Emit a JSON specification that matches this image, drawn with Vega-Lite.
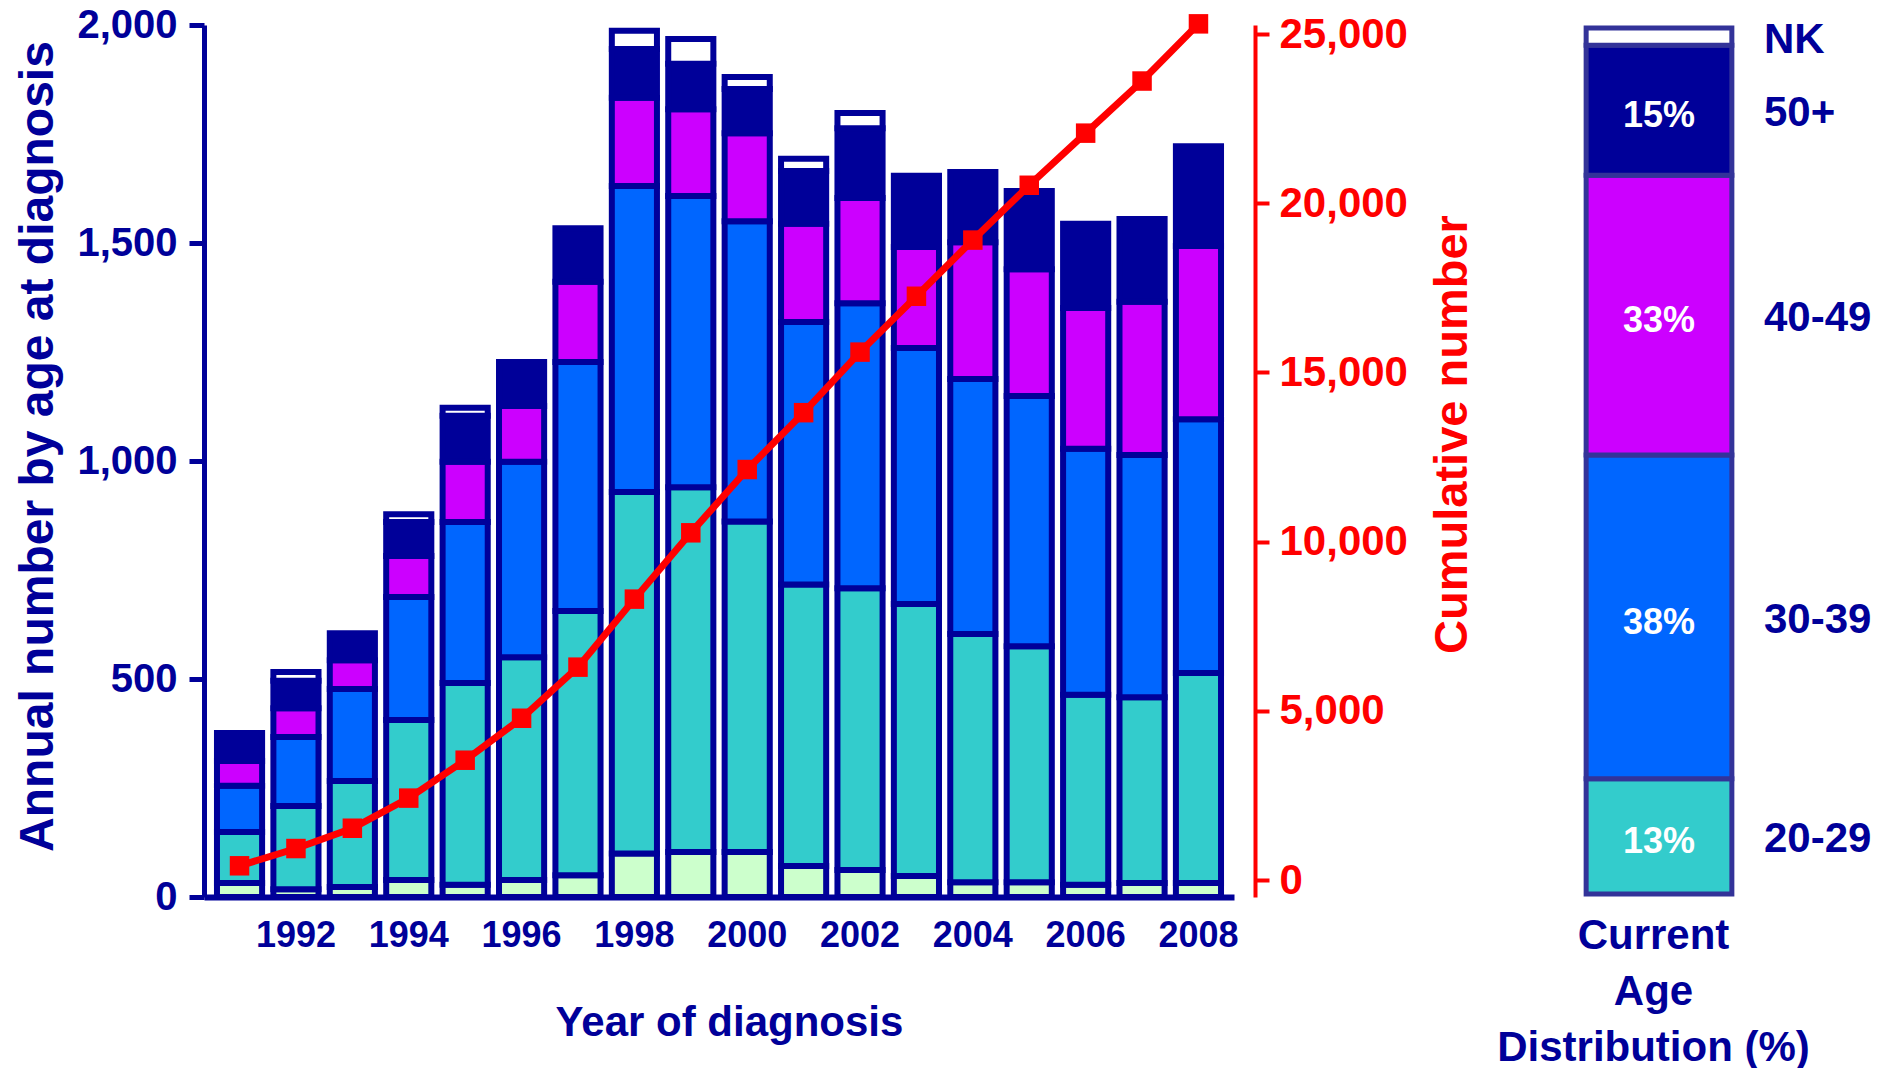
{
  "$schema": "https://vega.github.io/schema/vega-lite/v6.json",
  "background": "white",
  "padding": {"left": 13, "top": 5, "right": 5, "bottom": 0},
  "config": {
    "font": "Liberation Sans",
    "view": {"stroke": null},
    "axis": {"grid": false, "labelFontWeight": "bold", "titleFontWeight": "bold"}
  },
  "datasets": {
    "annual": [
      {"year": 1991, "grp": "0-19", "n": 32}, {"year": 1991, "grp": "20-29", "n": 117}, {"year": 1991, "grp": "30-39", "n": 106}, {"year": 1991, "grp": "40-49", "n": 57}, {"year": 1991, "grp": "50+", "n": 64},
      {"year": 1992, "grp": "0-19", "n": 18}, {"year": 1992, "grp": "20-29", "n": 191}, {"year": 1992, "grp": "30-39", "n": 158}, {"year": 1992, "grp": "40-49", "n": 66}, {"year": 1992, "grp": "50+", "n": 63}, {"year": 1992, "grp": "NK", "n": 20},
      {"year": 1993, "grp": "0-19", "n": 23}, {"year": 1993, "grp": "20-29", "n": 243}, {"year": 1993, "grp": "30-39", "n": 211}, {"year": 1993, "grp": "40-49", "n": 66}, {"year": 1993, "grp": "50+", "n": 62},
      {"year": 1994, "grp": "0-19", "n": 39}, {"year": 1994, "grp": "20-29", "n": 367}, {"year": 1994, "grp": "30-39", "n": 282}, {"year": 1994, "grp": "40-49", "n": 94}, {"year": 1994, "grp": "50+", "n": 78}, {"year": 1994, "grp": "NK", "n": 18},
      {"year": 1995, "grp": "0-19", "n": 28}, {"year": 1995, "grp": "20-29", "n": 463}, {"year": 1995, "grp": "30-39", "n": 369}, {"year": 1995, "grp": "40-49", "n": 138}, {"year": 1995, "grp": "50+", "n": 106}, {"year": 1995, "grp": "NK", "n": 18},
      {"year": 1996, "grp": "0-19", "n": 39}, {"year": 1996, "grp": "20-29", "n": 511}, {"year": 1996, "grp": "30-39", "n": 448}, {"year": 1996, "grp": "40-49", "n": 128}, {"year": 1996, "grp": "50+", "n": 101},
      {"year": 1997, "grp": "0-19", "n": 50}, {"year": 1997, "grp": "20-29", "n": 606}, {"year": 1997, "grp": "30-39", "n": 571}, {"year": 1997, "grp": "40-49", "n": 184}, {"year": 1997, "grp": "50+", "n": 123},
      {"year": 1998, "grp": "0-19", "n": 100}, {"year": 1998, "grp": "20-29", "n": 829}, {"year": 1998, "grp": "30-39", "n": 702}, {"year": 1998, "grp": "40-49", "n": 202}, {"year": 1998, "grp": "50+", "n": 112}, {"year": 1998, "grp": "NK", "n": 42},
      {"year": 1999, "grp": "0-19", "n": 103}, {"year": 1999, "grp": "20-29", "n": 837}, {"year": 1999, "grp": "30-39", "n": 668}, {"year": 1999, "grp": "40-49", "n": 199}, {"year": 1999, "grp": "50+", "n": 104}, {"year": 1999, "grp": "NK", "n": 57},
      {"year": 2000, "grp": "0-19", "n": 103}, {"year": 2000, "grp": "20-29", "n": 758}, {"year": 2000, "grp": "30-39", "n": 689}, {"year": 2000, "grp": "40-49", "n": 202}, {"year": 2000, "grp": "50+", "n": 101}, {"year": 2000, "grp": "NK", "n": 28},
      {"year": 2001, "grp": "0-19", "n": 71}, {"year": 2001, "grp": "20-29", "n": 646}, {"year": 2001, "grp": "30-39", "n": 602}, {"year": 2001, "grp": "40-49", "n": 225}, {"year": 2001, "grp": "50+", "n": 121}, {"year": 2001, "grp": "NK", "n": 28},
      {"year": 2002, "grp": "0-19", "n": 62}, {"year": 2002, "grp": "20-29", "n": 646}, {"year": 2002, "grp": "30-39", "n": 654}, {"year": 2002, "grp": "40-49", "n": 241}, {"year": 2002, "grp": "50+", "n": 160}, {"year": 2002, "grp": "NK", "n": 35},
      {"year": 2003, "grp": "0-19", "n": 48}, {"year": 2003, "grp": "20-29", "n": 624}, {"year": 2003, "grp": "30-39", "n": 587}, {"year": 2003, "grp": "40-49", "n": 232}, {"year": 2003, "grp": "50+", "n": 163},
      {"year": 2004, "grp": "0-19", "n": 34}, {"year": 2004, "grp": "20-29", "n": 569}, {"year": 2004, "grp": "30-39", "n": 585}, {"year": 2004, "grp": "40-49", "n": 314}, {"year": 2004, "grp": "50+", "n": 161},
      {"year": 2005, "grp": "0-19", "n": 34}, {"year": 2005, "grp": "20-29", "n": 541}, {"year": 2005, "grp": "30-39", "n": 574}, {"year": 2005, "grp": "40-49", "n": 291}, {"year": 2005, "grp": "50+", "n": 179},
      {"year": 2006, "grp": "0-19", "n": 28}, {"year": 2006, "grp": "20-29", "n": 436}, {"year": 2006, "grp": "30-39", "n": 564}, {"year": 2006, "grp": "40-49", "n": 323}, {"year": 2006, "grp": "50+", "n": 193},
      {"year": 2007, "grp": "0-19", "n": 32}, {"year": 2007, "grp": "20-29", "n": 426}, {"year": 2007, "grp": "30-39", "n": 556}, {"year": 2007, "grp": "40-49", "n": 351}, {"year": 2007, "grp": "50+", "n": 190},
      {"year": 2008, "grp": "0-19", "n": 32}, {"year": 2008, "grp": "20-29", "n": 482}, {"year": 2008, "grp": "30-39", "n": 582}, {"year": 2008, "grp": "40-49", "n": 397}, {"year": 2008, "grp": "50+", "n": 229}
    ],
    "cum": [
      {"year": 1991, "cum": 420}, {"year": 1992, "cum": 930}, {"year": 1993, "cum": 1530}, {"year": 1994, "cum": 2420},
      {"year": 1995, "cum": 3540}, {"year": 1996, "cum": 4780}, {"year": 1997, "cum": 6290}, {"year": 1998, "cum": 8300},
      {"year": 1999, "cum": 10260}, {"year": 2000, "cum": 12130}, {"year": 2001, "cum": 13810}, {"year": 2002, "cum": 15600},
      {"year": 2003, "cum": 17250}, {"year": 2004, "cum": 18910}, {"year": 2005, "cum": 20530}, {"year": 2006, "cum": 22070},
      {"year": 2007, "cum": 23610}, {"year": 2008, "cum": 25300}
    ],
    "current": [
      {"panel": "Current", "grp": "20-29", "pct": 13.3, "label": "13%"},
      {"panel": "Current", "grp": "30-39", "pct": 37.4, "label": "38%"},
      {"panel": "Current", "grp": "40-49", "pct": 32.3, "label": "33%"},
      {"panel": "Current", "grp": "50+", "pct": 15.0, "label": "15%"},
      {"panel": "Current", "grp": "NK", "pct": 2.0, "label": ""}
    ]
  },
  "bounds": "flush",
  "spacing": 323,
  "hconcat": [
    {
      "width": 1030,
      "height": 872,
      "layer": [
        {
          "data": {"name": "annual"},
          "mark": {"type": "bar", "stroke": "#000099", "strokeWidth": 6},
          "encoding": {
            "x": {
              "field": "year", "type": "ordinal",
              "scale": {"paddingInner": 0.2, "paddingOuter": 0.23},
              "axis": {
                "values": [1992, 1994, 1996, 1998, 2000, 2002, 2004, 2006, 2008],
                "title": "Year of diagnosis", "labelAngle": 0, "ticks": false,
                "labelPadding": 21, "labelFontSize": 36, "labelColor": "#000099",
                "domainColor": "#000099", "domainWidth": 6,
                "titleFontSize": 42, "titleColor": "#000099",
                "titleX": 525, "titleY": 125, "titleBaseline": "middle", "titleAlign": "center"
              }
            },
            "y": {
              "field": "n", "type": "quantitative", "stack": "zero",
              "scale": {"domain": [0, 2000], "nice": false},
              "axis": {
                "title": "Annual number by age at diagnosis",
                "values": [0, 500, 1000, 1500, 2000], "format": ",.0f",
                "tickSize": 15, "tickWidth": 5, "tickColor": "#000099",
                "domainColor": "#000099", "domainWidth": 5,
                "labelColor": "#000099", "labelFontSize": 40, "labelPadding": 12,
                "titleColor": "#000099", "titleFontSize": 48,
                "titleAngle": 270, "titleX": -166, "titleY": 421,
                "titleBaseline": "middle", "titleAlign": "center"
              }
            },
            "color": {
              "field": "grp", "type": "nominal",
              "scale": {"domain": ["0-19", "20-29", "30-39", "40-49", "50+", "NK"], "range": ["#CCFFCC", "#33CCCC", "#0066FF", "#CC00FF", "#000099", "#FFFFFF"]},
              "legend": null
            },
            "order": {"field": "grp", "type": "ordinal", "sort": "ascending"}
          }
        },
        {
          "data": {"name": "cum"},
          "encoding": {
            "x": {
              "field": "year", "type": "ordinal",
              "scale": {"paddingInner": 0.2, "paddingOuter": 0.23},
              "axis": {
                "values": [1992, 1994, 1996, 1998, 2000, 2002, 2004, 2006, 2008],
                "title": "Year of diagnosis", "labelAngle": 0, "ticks": false,
                "labelPadding": 21, "labelFontSize": 36, "labelColor": "#000099",
                "domainColor": "#000099", "domainWidth": 6,
                "titleFontSize": 42, "titleColor": "#000099",
                "titleX": 525, "titleY": 125, "titleBaseline": "middle", "titleAlign": "center"
              }
            },
            "y": {
              "field": "cum", "type": "quantitative",
              "scale": {"domain": [-502, 25266], "nice": false, "zero": false},
              "axis": {
                "orient": "right", "offset": 21,
                "title": "Cumulative number",
                "values": [0, 5000, 10000, 15000, 20000, 25000], "format": ",.0f",
                "tickSize": 14, "tickWidth": 4, "tickColor": "#FF0000",
                "domainColor": "#FF0000", "domainWidth": 4,
                "labelColor": "#FF0000", "labelFontSize": 42, "labelPadding": 10,
                "titleColor": "#FF0000", "titleFontSize": 47,
                "titleAngle": 270, "titleX": 197, "titleY": 409,
                "titleBaseline": "middle", "titleAlign": "center"
              }
            }
          },
          "layer": [
            {"mark": {"type": "line", "color": "#FF0000", "strokeWidth": 7}},
            {"mark": {"type": "point", "shape": "square", "filled": true, "color": "#FF0000", "opacity": 1, "size": 380}}
          ]
        }
      ],
      "resolve": {"scale": {"y": "independent"}}
    },
    {
      "width": 204,
      "height": 872,
      "data": {"name": "current"},
      "encoding": {
        "x": {
          "field": "panel", "type": "nominal",
          "scale": {"paddingInner": 0, "paddingOuter": 0.2},
          "axis": {
            "title": ["Current", "Age", "Distribution (%)"],
            "labels": false, "ticks": false, "domain": false,
            "titleFontSize": 42, "titleColor": "#000099", "titleLineHeight": 56,
            "titleX": 96, "titleY": 38, "titleBaseline": "middle", "titleAlign": "center"
          }
        }
      },
      "layer": [
        {
          "mark": {"type": "bar", "stroke": "#333399", "strokeWidth": 5},
          "encoding": {
            "y": {"field": "pct", "type": "quantitative", "stack": "zero", "scale": {"domain": [-0.35, 100.35], "nice": false, "zero": false}, "axis": null},
            "color": {
              "field": "grp", "type": "nominal",
              "scale": {"domain": ["0-19", "20-29", "30-39", "40-49", "50+", "NK"], "range": ["#CCFFCC", "#33CCCC", "#0066FF", "#CC00FF", "#000099", "#FFFFFF"]},
              "legend": null
            },
            "order": {"field": "grp", "type": "ordinal", "sort": "ascending"}
          }
        },
        {
          "mark": {"type": "text", "color": "white", "fontSize": 36, "fontWeight": "bold", "baseline": "middle", "dy": 6},
          "encoding": {
            "y": {"field": "pct", "type": "quantitative", "stack": "zero", "bandPosition": 0.5},
            "detail": {"field": "grp"},
            "order": {"field": "grp", "type": "ordinal", "sort": "ascending"},
            "text": {"field": "label"}
          }
        },
        {
          "mark": {"type": "text", "color": "#000099", "fontSize": 42, "fontWeight": "bold", "align": "left", "baseline": "middle", "dx": 105, "dy": 3},
          "encoding": {
            "y": {"field": "pct", "type": "quantitative", "stack": "zero", "bandPosition": 0.5},
            "detail": {"field": "grp"},
            "order": {"field": "grp", "type": "ordinal", "sort": "ascending"},
            "text": {"field": "grp"}
          }
        },
        {
          "mark": {"type": "rule", "color": "#333399", "strokeWidth": 5},
          "encoding": {"y": {"datum": 0}}
        }
      ]
    }
  ]
}
